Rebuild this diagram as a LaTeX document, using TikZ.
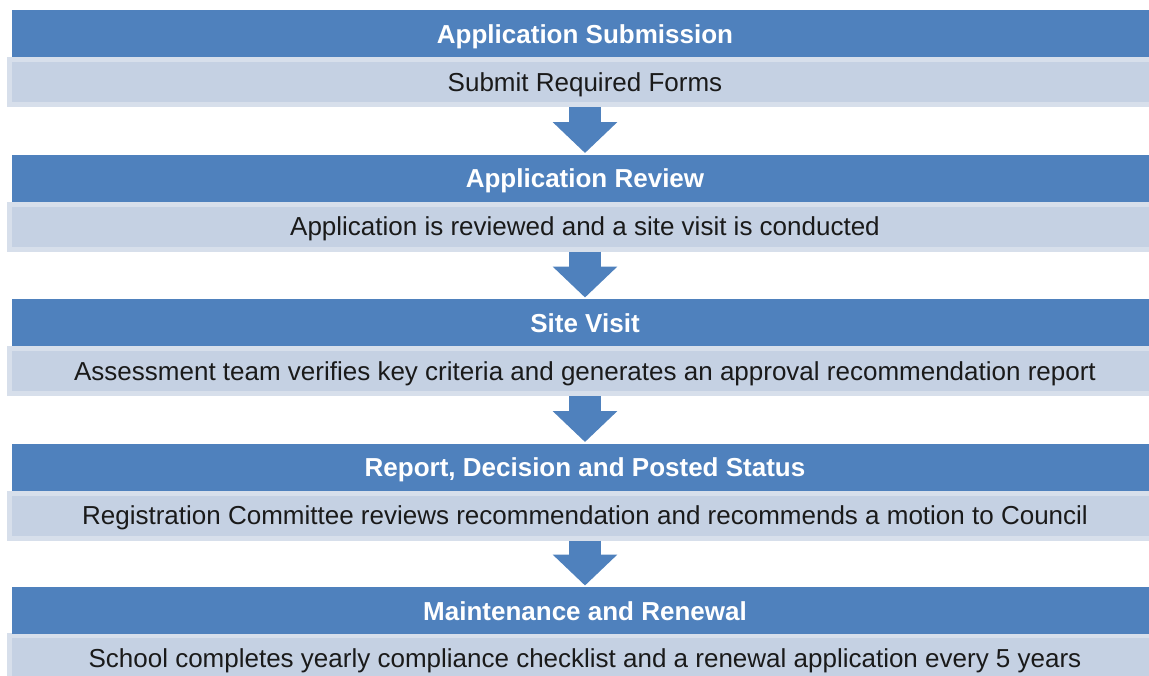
\documentclass[tikz,border=0pt]{standalone}
\usepackage{fontspec}
\setmainfont{Liberation Sans}
\usetikzlibrary{arrows.meta}
\definecolor{hdrblue}{HTML}{4F81BD}
\definecolor{bodyfill}{HTML}{C5D1E3}
\definecolor{bodyedge}{HTML}{D7DFEB}
\definecolor{bodytext}{HTML}{1A1A1A}
\begin{document}
\begin{tikzpicture}[x=1pt,y=-1pt,
  hdrbox/.style={rectangle, fill=hdrblue, inner sep=0pt, outer sep=0pt,
    minimum width=1146pt, minimum height=47pt, text=white,
    font=\fontsize{26}{30}\selectfont\bfseries, text height=19pt, text depth=0pt},
  bodybox/.style={rectangle, fill=bodyfill, draw=bodyedge, line width=5pt, inner sep=0pt,
    minimum width=1151pt, minimum height=45pt, text=bodytext,
    font=\fontsize{26}{30}\selectfont, text height=18.6pt, text depth=0pt},
  flowarrow/.style={draw=hdrblue, line width=32pt,
    -{Triangle[width=63pt,length=31pt]}, shorten >=1.5pt}
]
\useasboundingbox (0,0) rectangle (1149,675);
\clip (0,0) rectangle (1149,675);

\node[bodybox] (b1) at (585,82) {Submit Required Forms};
\node[hdrbox] (h1) at (585,33.5) {Application Submission};

\node[bodybox] (b2) at (585,226.5) {Application is reviewed and a site visit is conducted};
\node[hdrbox] (h2) at (585,178) {Application Review};

\node[bodybox] (b3) at (585,371) {Assessment team verifies key criteria and generates an approval recommendation report};
\node[hdrbox] (h3) at (585,322.5) {Site Visit};

\node[bodybox] (b4) at (585,515.5) {Registration Committee reviews recommendation and recommends a motion to Council};
\node[hdrbox] (h4) at (585,467) {Report, Decision and Posted Status};

\node[bodybox] (b5) at (585,658) {School completes yearly compliance checklist and a renewal application every 5 years};
\node[hdrbox] (h5) at (585,610.5) {Maintenance and Renewal};

\draw[flowarrow] (b1.south) -- (h2.north);
\draw[flowarrow] (b2.south) -- (h3.north);
\draw[flowarrow] (b3.south) -- (h4.north);
\draw[flowarrow] (b4.south) -- (h5.north);
\end{tikzpicture}
\end{document}
